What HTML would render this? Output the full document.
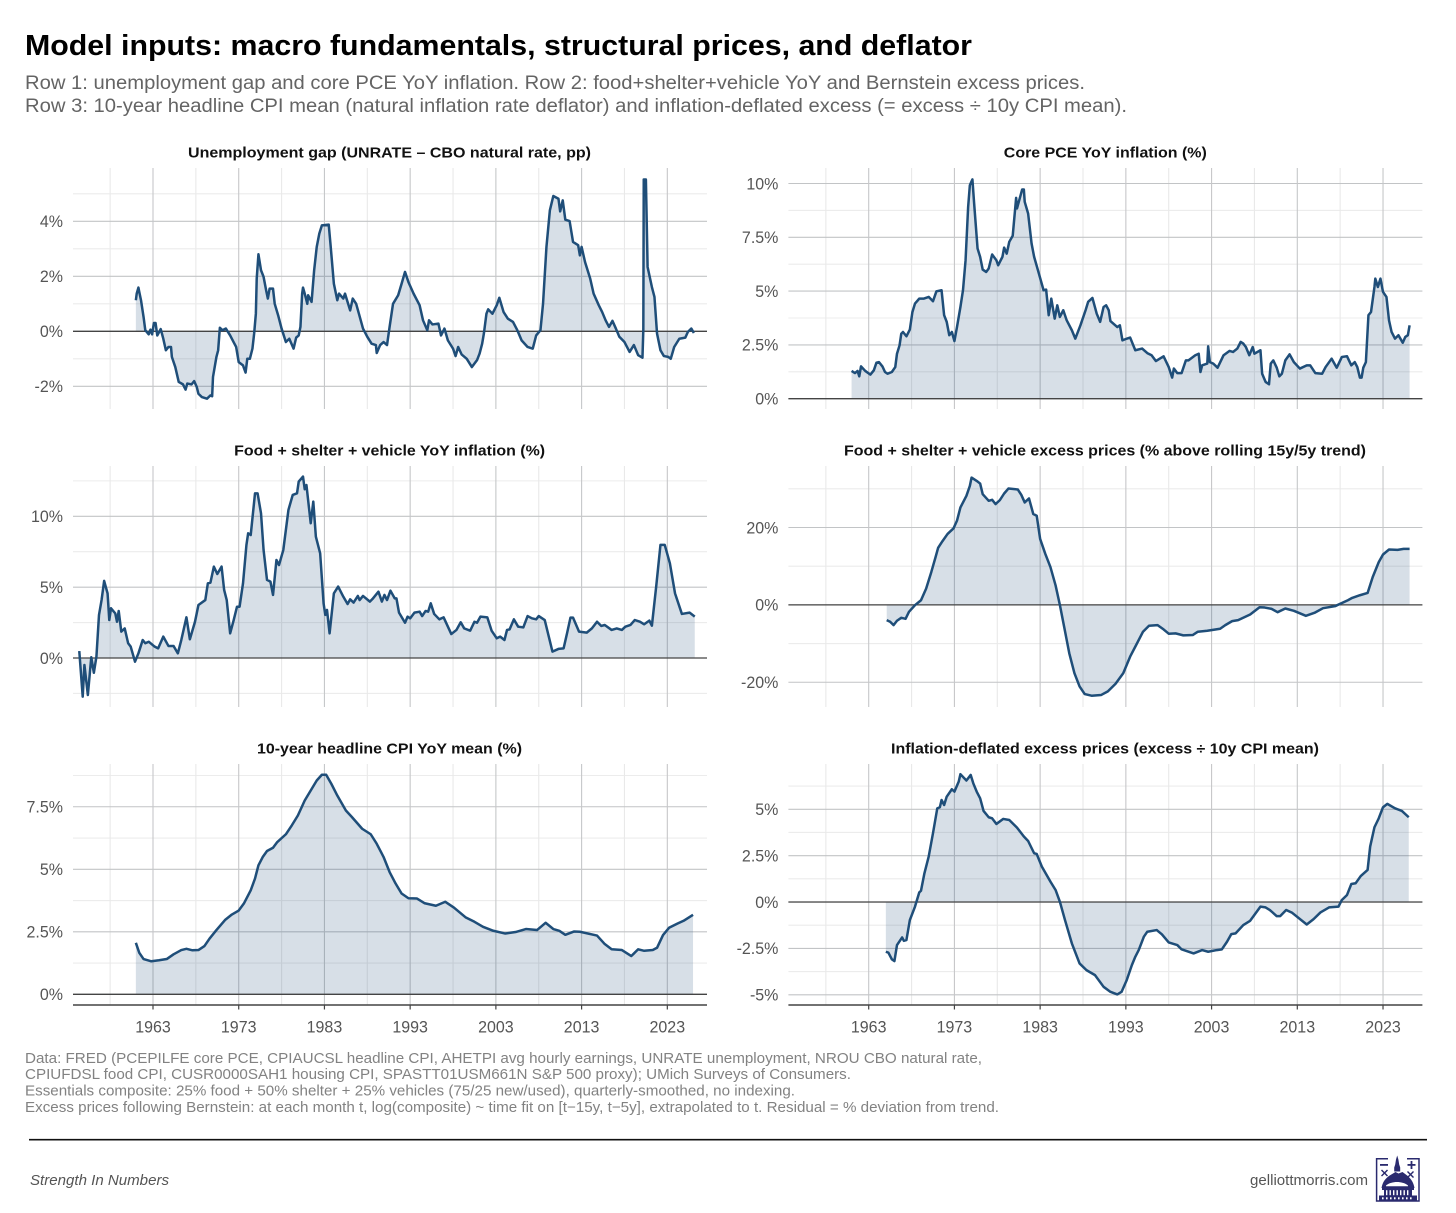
<!DOCTYPE html>
<html lang="en">
<head>
<meta charset="utf-8">
<title>Model inputs: macro fundamentals, structural prices, and deflator</title>
<style>
  html, body { margin: 0; padding: 0; background: #fff; }
  svg { display: block; font-family: "Liberation Sans", Arial, sans-serif; }
  .sub { font-size: 19px; fill: #646464; }
  .ptitle { font-size: 15px; font-weight: bold; fill: #111; text-anchor: middle; }
  .foot { font-size: 14.6px; fill: #828282; }
  .tick { font-size: 17px; fill: #555; }
</style>
</head>
<body>
<svg id="figure" width="1456" height="1213" viewBox="0 0 1456 1213" xmlns="http://www.w3.org/2000/svg">
  <rect width="1456" height="1213" fill="#fff"/>
  <text x="25" y="55" font-size="29" font-weight="bold" fill="#000" textLength="947" lengthAdjust="spacingAndGlyphs">Model inputs: macro fundamentals, structural prices, and deflator</text>
  <text class="sub" x="25" y="89" textLength="1060" lengthAdjust="spacingAndGlyphs">Row 1: unemployment gap and core PCE YoY inflation. Row 2: food+shelter+vehicle YoY and Bernstein excess prices.</text>
  <text class="sub" x="25" y="112" textLength="1102" lengthAdjust="spacingAndGlyphs">Row 3: 10-year headline CPI mean (natural inflation rate deflator) and inflation-deflated excess (= excess ÷ 10y CPI mean).</text>

  <g id="panels"></g>

  <text class="foot" x="25" y="1063" textLength="957" lengthAdjust="spacingAndGlyphs">Data: FRED (PCEPILFE core PCE, CPIAUCSL headline CPI, AHETPI avg hourly earnings, UNRATE unemployment, NROU CBO natural rate,</text>
  <text class="foot" x="25" y="1079" textLength="826" lengthAdjust="spacingAndGlyphs">CPIUFDSL food CPI, CUSR0000SAH1 housing CPI, SPASTT01USM661N S&amp;P 500 proxy); UMich Surveys of Consumers.</text>
  <text class="foot" x="25" y="1095.5" textLength="770" lengthAdjust="spacingAndGlyphs">Essentials composite: 25% food + 50% shelter + 25% vehicles (75/25 new/used), quarterly-smoothed, no indexing.</text>
  <text class="foot" x="25" y="1112" textLength="974" lengthAdjust="spacingAndGlyphs">Excess prices following Bernstein: at each month t, log(composite) ~ time fit on [t−15y, t−5y], extrapolated to t. Residual = % deviation from trend.</text>

  <line x1="29" y1="1139.7" x2="1427" y2="1139.7" stroke="#111" stroke-width="1.6"/>
  <text x="30" y="1185" font-size="15" font-style="italic" fill="#555" textLength="139" lengthAdjust="spacingAndGlyphs">Strength In Numbers</text>
  <text x="1250" y="1185" font-size="15" fill="#555" textLength="118" lengthAdjust="spacingAndGlyphs">gelliottmorris.com</text>

  <g fill="#2a2a6e" stroke="none">
    <path d="M1388 1158.7H1376.6V1201H1419V1158.7H1407" fill="none" stroke="#2a2a6e" stroke-width="1.5"/>
    <rect x="1380" y="1164" width="8" height="1.8"/>
    <rect x="1407.5" y="1164" width="8" height="1.8"/>
    <rect x="1410.6" y="1161" width="1.8" height="8"/>
    <path d="M1381 1170.5l1-1 2.5 2.5 2.5-2.5 1 1-2.5 2.5 2.5 2.5-1 1-2.5-2.5-2.5 2.5-1-1 2.5-2.5z"/>
    <path d="M1407 1172l1-1 2.5 2.5 2.5-2.5 1 1-2.5 2.5 2.5 2.5-1 1-2.5-2.5-2.5 2.5-1-1 2.5-2.5z"/>
    <path d="M1397.2 1155.5l1.2 4 .8 5 1 3v4h-6v-4l1-3 .8-5z"/>
    <path d="M1381.5 1188c1-6 4-10 9-13l5-3 3 1.5 4-1.5 4 3c4 3 7 7 8 13z"/>
    <rect x="1382" y="1188" width="32" height="2"/>
    <rect x="1384" y="1190" width="28" height="5.5"/>
    <rect x="1379" y="1195.5" width="38" height="5.5"/>
    <g fill="#fff">
      <rect x="1386" y="1190.2" width="1.4" height="5"/><rect x="1389.5" y="1190.2" width="1.4" height="5"/><rect x="1393" y="1190.2" width="1.4" height="5"/><rect x="1396.5" y="1190.2" width="1.4" height="5"/><rect x="1400" y="1190.2" width="1.4" height="5"/><rect x="1403.5" y="1190.2" width="1.4" height="5"/><rect x="1407" y="1190.2" width="1.4" height="5"/>
      <rect x="1382" y="1197.3" width="1.6" height="2"/><rect x="1386" y="1197.3" width="1.6" height="2"/><rect x="1390" y="1197.3" width="1.6" height="2"/><rect x="1394" y="1197.3" width="1.6" height="2"/><rect x="1398" y="1197.3" width="1.6" height="2"/><rect x="1402" y="1197.3" width="1.6" height="2"/><rect x="1406" y="1197.3" width="1.6" height="2"/><rect x="1410" y="1197.3" width="1.6" height="2"/>
      <path d="M1386 1185.5c3-2.500 7-3.500 11-3.500s8 1 11 3.500v.8h-22z"/>
    </g>
  </g>
</svg>

<script>
// ---- Shared axis values ----
const majorYears = [1963, 1973, 1983, 1993, 2003, 2013, 2023];
const minorYears = [1958, 1968, 1978, 1988, 1998, 2008, 2018];
const xTickLabels = ['1963', '1973', '1983', '1993', '2003', '2013', '2023'];

// ---- Unemployment gap ----
const gapYears = [1961.0,1961.1,1961.3,1961.4,1961.6,1961.9,1962.1,1962.5,1962.7,1962.9,1963.1,1963.3,1963.5,1963.9,1964.2,1964.5,1964.8,1965.1,1965.2,1965.6,1966.0,1966.5,1966.8,1967.0,1967.5,1967.8,1968.1,1968.3,1968.7,1969.3,1969.7,1969.9,1970.0,1970.4,1970.6,1970.8,1971.1,1971.5,1972.0,1972.4,1972.7,1973.0,1973.5,1973.8,1974.0,1974.3,1974.6,1974.8,1975.0,1975.1,1975.3,1975.6,1975.9,1976.2,1976.4,1976.6,1977.0,1977.2,1977.6,1978.0,1978.5,1978.9,1979.4,1979.7,1980.0,1980.2,1980.4,1980.5,1980.7,1981.0,1981.1,1981.5,1981.8,1982.1,1982.4,1982.7,1983.5,1983.7,1984.1,1984.5,1984.7,1985.2,1985.4,1986.0,1986.3,1986.7,1987.1,1987.5,1988.0,1988.5,1989.0,1989.1,1989.5,1989.9,1990.3,1990.6,1991.0,1991.6,1992.0,1992.4,1992.8,1993.4,1994.1,1994.5,1995.0,1995.2,1995.6,1996.3,1996.6,1997.0,1997.4,1998.0,1998.3,1998.6,1999.0,1999.6,2000.2,2000.8,2001.1,2001.4,2001.6,2001.9,2002.1,2002.6,2003.1,2003.4,2003.9,2004.4,2005.0,2005.5,2006.0,2006.7,2007.3,2007.7,2008.2,2008.5,2008.9,2009.3,2009.7,2010.3,2010.5,2010.8,2011.1,2011.6,2012.0,2012.6,2012.8,2013.0,2013.4,2014.0,2014.4,2015.0,2015.4,2015.8,2016.2,2016.6,2017.0,2017.4,2018.0,2018.6,2019.1,2019.6,2020.1,2020.2,2020.25,2020.5,2020.7,2021.2,2021.5,2021.8,2022.2,2022.6,2023.1,2023.4,2023.8,2024.4,2025.1,2025.4,2025.8,2026.1];
const gapValues = [1.13,1.37,1.59,1.43,1.13,0.52,0.04,-0.11,0.06,-0.11,0.3,0.3,-0.15,0.08,-0.27,-0.69,-0.57,-0.57,-0.93,-1.3,-1.84,-1.93,-2.12,-1.9,-1.93,-1.81,-2.02,-2.27,-2.39,-2.45,-2.33,-2.36,-1.66,-0.93,-0.69,0.13,0.04,0.1,-0.15,-0.39,-0.57,-1.12,-1.24,-1.5,-1.0,-1.0,-0.63,-0.08,0.64,1.92,2.8,2.22,1.98,1.49,1.19,1.55,1.55,1.0,0.58,0.1,-0.39,-0.27,-0.63,-0.23,-0.15,0.16,1.37,1.59,1.37,1.0,1.31,1.07,2.22,3.07,3.55,3.85,3.88,3.19,1.73,1.13,1.37,1.19,1.37,0.76,1.19,1.0,0.55,0.1,-0.2,-0.45,-0.5,-0.79,-0.5,-0.39,-0.5,0.16,1.0,1.31,1.73,2.16,1.79,1.37,0.95,0.4,0.04,0.4,0.25,0.28,-0.15,0.1,-0.33,-0.63,-0.9,-0.57,-0.84,-1.0,-1.3,-1.05,-0.81,-0.45,-0.08,0.64,0.8,0.64,0.95,1.22,0.7,0.46,0.34,0.04,-0.33,-0.57,-0.63,-0.15,0.04,1.0,3.07,4.4,4.92,4.82,4.36,4.76,4.06,4.01,3.25,3.13,2.76,3.07,2.52,1.92,1.37,0.95,0.7,0.4,0.16,0.38,0.1,-0.2,-0.39,-0.75,-0.5,-0.87,-0.96,0.04,5.52,5.52,2.34,1.61,1.25,-0.08,-0.69,-0.9,-0.93,-1.0,-0.57,-0.27,-0.23,-0.02,0.1,-0.06];
const gapTicks = [4, 2, 0, -2];
const gapTickLabels = ['4%', '2%', '0%', '-2%'];
const gapMinorTicks = [5, 3, 1, -1];

// ---- Core PCE YoY ----
const pceYears = [1961.0,1961.4,1961.7,1961.9,1962.1,1962.6,1963.2,1963.6,1963.9,1964.2,1964.6,1964.9,1965.2,1965.7,1966.1,1966.3,1966.6,1966.8,1967.0,1967.4,1967.8,1968.1,1968.4,1968.9,1969.4,1970.0,1970.5,1970.9,1971.5,1971.8,1972.1,1972.4,1972.7,1973.0,1973.3,1973.7,1974.0,1974.3,1974.6,1974.8,1975.1,1975.3,1975.7,1976.0,1976.3,1976.7,1977.0,1977.4,1977.9,1978.1,1978.6,1978.8,1979.1,1979.4,1979.8,1980.2,1980.3,1980.9,1981.1,1981.2,1981.6,1982.0,1982.3,1982.8,1983.4,1983.7,1984.0,1984.3,1984.7,1985.0,1985.3,1985.7,1986.1,1986.7,1987.1,1987.7,1988.3,1988.6,1989.1,1989.6,1990.0,1990.4,1990.7,1991.0,1991.2,1992.0,1992.3,1992.6,1993.1,1993.5,1994.1,1994.9,1995.5,1996.0,1996.5,1997.4,1998.0,1998.4,1998.6,1999.0,1999.5,2000.0,2000.3,2001.1,2001.5,2001.7,2001.9,2002.5,2002.6,2002.8,2003.2,2003.7,2004.4,2005.1,2005.5,2006.0,2006.4,2006.7,2007.0,2007.4,2007.8,2008.0,2008.7,2008.9,2009.3,2009.7,2009.9,2010.2,2010.6,2010.9,2011.2,2011.6,2012.1,2012.6,2013.3,2014.1,2014.5,2015.1,2015.9,2016.3,2017.0,2017.6,2018.2,2018.8,2019.3,2019.7,2020.0,2020.3,2020.5,2020.7,2021.0,2021.3,2021.6,2022.0,2022.1,2022.4,2022.7,2023.0,2023.4,2023.7,2024.0,2024.4,2024.8,2025.3,2025.6,2025.9,2026.1];
const pceValues = [1.29,1.19,1.29,1.04,1.5,1.29,1.12,1.32,1.67,1.7,1.5,1.24,1.16,1.24,1.47,2.09,2.48,3.02,3.1,2.9,3.21,4.03,4.42,4.65,4.65,4.73,4.53,4.99,5.04,3.88,3.57,2.95,3.1,2.68,3.33,4.26,5.04,6.43,8.91,9.92,10.19,9.07,6.98,6.59,6.0,5.89,6.05,6.7,6.43,6.2,6.59,7.02,6.74,7.29,7.57,9.33,8.84,9.72,9.72,9.15,8.6,7.21,6.59,5.89,5.04,5.07,3.88,4.65,3.72,4.34,3.8,4.11,3.64,3.18,2.79,3.41,4.11,4.5,4.68,3.95,3.57,4.26,4.34,4.11,3.61,3.33,3.41,2.71,2.79,2.84,2.25,2.33,2.12,2.02,1.75,1.97,1.47,0.98,1.4,1.19,1.19,1.78,1.78,2.02,2.09,1.24,1.55,1.63,2.43,1.7,1.63,1.44,2.02,2.22,2.17,2.33,2.64,2.56,2.4,2.02,2.4,2.09,2.25,1.16,0.78,0.67,1.63,1.78,1.44,1.04,1.16,1.78,2.06,1.7,1.4,1.55,1.55,1.19,1.16,1.47,1.86,1.44,1.94,1.97,1.55,1.7,1.47,0.98,0.98,1.44,1.7,3.88,4.03,5.19,5.58,5.19,5.58,4.96,4.73,3.64,3.1,2.79,2.95,2.6,2.87,2.95,3.41];
const pceTicks = [10, 7.5, 5, 2.5, 0];
const pceTickLabels = ['10%', '7.5%', '5%', '2.5%', '0%'];
const pceMinorTicks = [8.75, 6.25, 3.75, 1.25];

// ---- Food + shelter + vehicle YoY ----
const fsvYears = [1954.4,1954.8,1955.0,1955.4,1955.8,1956.1,1956.4,1956.7,1957.0,1957.3,1957.7,1957.9,1958.1,1958.6,1958.8,1959.0,1959.3,1959.7,1960.1,1960.4,1960.9,1961.3,1961.8,1962.1,1962.5,1963.2,1963.6,1964.2,1964.8,1965.4,1965.9,1966.3,1966.9,1967.3,1967.9,1968.3,1969.1,1969.4,1969.7,1970.1,1970.5,1971.0,1971.3,1971.6,1972.0,1972.4,1972.8,1973.1,1973.5,1973.9,1974.1,1974.4,1974.9,1975.2,1975.6,1975.9,1976.3,1976.7,1977.0,1977.4,1977.7,1978.2,1978.8,1979.3,1979.8,1980.0,1980.5,1980.7,1980.9,1981.4,1981.7,1982.0,1982.5,1982.9,1983.1,1983.3,1983.6,1984.1,1984.6,1985.2,1985.7,1986.0,1986.4,1986.9,1987.1,1987.5,1988.3,1988.6,1989.3,1989.7,1990.0,1990.3,1990.7,1991.2,1991.4,1991.7,1992.4,1992.7,1993.0,1993.5,1994.1,1994.4,1994.8,1995.1,1995.4,1995.8,1996.4,1996.9,1997.8,1998.4,1998.9,1999.3,2000.0,2000.5,2000.8,2001.2,2002.0,2002.5,2003.1,2003.5,2004.0,2004.3,2004.6,2005.1,2005.6,2006.2,2006.7,2007.2,2007.7,2008.0,2008.7,2009.6,2010.3,2010.9,2011.3,2011.7,2012.0,2012.7,2013.6,2014.2,2014.8,2015.3,2015.7,2016.5,2017.1,2017.7,2018.1,2018.7,2019.2,2019.8,2020.3,2020.9,2021.2,2021.7,2022.2,2022.7,2023.3,2023.9,2024.7,2025.6,2026.2];
const fsvValues = [0.49,-2.73,-0.49,-2.61,0.05,-1.04,0.09,3.04,4.09,5.44,4.56,2.68,3.51,3.15,2.56,3.32,1.86,2.09,1.04,0.8,-0.26,0.33,1.27,1.04,1.15,0.8,0.68,1.51,0.85,0.85,0.33,1.27,2.87,1.32,2.56,3.74,4.09,5.27,5.32,6.45,5.93,6.45,4.8,4.09,1.74,2.64,3.62,3.62,5.27,7.98,8.8,8.68,11.62,11.62,10.21,7.62,5.51,5.39,4.45,6.92,6.56,7.62,10.45,11.51,11.62,12.45,12.8,11.91,12.21,9.51,11.04,8.56,7.39,3.86,3.04,3.39,1.74,4.56,5.04,4.33,3.81,4.14,3.91,4.38,4.09,4.38,3.98,4.16,4.68,3.98,4.45,4.09,4.75,4.21,4.21,3.2,2.49,2.92,2.8,3.2,3.27,2.96,3.32,3.27,3.86,3.11,2.73,2.87,1.69,1.98,2.52,2.09,1.93,2.56,2.49,2.92,2.87,1.93,1.39,1.51,1.27,1.98,2.02,2.73,2.21,2.16,2.96,2.8,2.73,2.96,2.68,0.45,0.64,0.68,1.74,2.85,2.85,1.86,1.79,2.09,2.56,2.26,2.33,1.98,2.09,1.98,2.21,2.33,2.68,2.56,2.38,2.64,2.28,5.04,7.98,7.98,6.68,4.56,3.11,3.2,2.92];
const fsvTicks = [10, 5, 0];
const fsvTickLabels = ['10%', '5%', '0%'];
const fsvMinorTicks = [12.5, 7.5, 2.5, -2.5];

// ---- Excess prices ----
const excessYears = [1965.1,1965.5,1965.9,1966.3,1966.8,1967.3,1967.7,1968.4,1969.1,1969.7,1970.3,1970.8,1971.1,1971.6,1972.2,1972.9,1973.3,1973.7,1974.4,1974.8,1975.0,1975.6,1976.0,1976.3,1977.0,1977.4,1977.8,1978.3,1978.8,1979.3,1980.4,1980.8,1981.2,1981.7,1982.2,1982.6,1983.0,1983.6,1984.2,1984.8,1985.3,1985.8,1986.4,1987.0,1987.6,1988.2,1989.0,1990.1,1990.9,1991.8,1992.7,1993.5,1994.2,1995.0,1995.7,1996.7,1997.4,1998.0,1998.8,1999.7,2000.8,2001.4,2002.5,2004.0,2004.6,2005.4,2006.1,2007.5,2008.6,2009.2,2010.0,2010.7,2011.6,2012.6,2014.0,2015.0,2016.0,2017.4,2018.9,2019.4,2020.3,2021.2,2021.8,2022.5,2023.0,2023.7,2024.7,2025.4,2026.1];
const excessValues = [-3.94,-4.37,-5.23,-4.11,-3.34,-3.6,-1.8,-0.09,1.2,4.2,8.48,12.34,14.74,16.45,18.34,19.8,21.77,25.19,28.19,30.76,32.9,32.05,31.36,28.62,26.91,27.16,26.05,27.08,28.79,30.08,29.82,28.45,26.48,27.51,23.48,23.05,17.05,13.2,9.77,5.06,0,-5.66,-12.51,-17.65,-21.08,-23.05,-23.48,-23.31,-22.37,-20.39,-17.65,-13.37,-10.37,-6.94,-5.4,-5.23,-6.34,-7.46,-7.37,-7.88,-7.8,-6.94,-6.68,-6.17,-5.23,-4.2,-3.94,-2.49,-0.6,-0.69,-1.03,-1.89,-0.94,-1.54,-2.83,-2.06,-0.86,-0.34,1.2,1.8,2.49,3.08,7.2,11.05,13.02,14.31,14.22,14.48,14.48];
const excessTicks = [20, 0, -20];
const excessTickLabels = ['20%', '0%', '-20%'];
const excessMinorTicks = [30, 10, -10];

// ---- 10-year CPI mean ----
const cpiYears = [1961.0,1961.4,1961.9,1962.8,1963.7,1964.6,1965.4,1966.3,1966.9,1967.6,1968.3,1969.0,1969.6,1970.4,1971.4,1972.2,1973.0,1973.6,1974.4,1974.9,1975.3,1975.8,1976.3,1977.0,1977.5,1978.5,1979.2,1979.9,1980.7,1981.4,1982.1,1982.7,1983.2,1983.8,1984.5,1985.5,1986.2,1987.4,1988.4,1989.1,1989.9,1990.6,1991.3,1992.0,1992.8,1993.8,1994.7,1996.0,1997.1,1998.1,1999.5,2000.5,2001.5,2002.7,2004.1,2005.3,2006.5,2007.8,2008.8,2009.7,2010.4,2011.1,2012.1,2012.8,2014.8,2015.7,2016.5,2017.7,2018.8,2019.6,2020.3,2021.3,2021.8,2022.5,2023.2,2024.2,2024.9,2026.0];
const cpiValues = [2.06,1.66,1.41,1.32,1.36,1.41,1.6,1.77,1.82,1.76,1.77,1.93,2.23,2.57,2.97,3.19,3.35,3.63,4.16,4.63,5.16,5.49,5.73,5.86,6.09,6.4,6.76,7.15,7.75,8.15,8.55,8.78,8.78,8.42,7.95,7.35,7.09,6.62,6.4,6.02,5.49,4.89,4.43,4.03,3.84,3.83,3.64,3.54,3.7,3.47,3.07,2.9,2.7,2.54,2.43,2.49,2.61,2.57,2.86,2.61,2.54,2.38,2.51,2.5,2.35,2.01,1.8,1.77,1.53,1.8,1.74,1.77,1.86,2.37,2.66,2.83,2.94,3.18];
const cpiTicks = [7.5, 5, 2.5, 0];
const cpiTickLabels = ['7.5%', '5%', '2.5%', '0%'];
const cpiMinorTicks = [8.75, 6.25, 3.75, 1.25];

// ---- Inflation-deflated excess ----
const deflYears = [1965.0,1965.3,1965.7,1966.0,1966.3,1966.9,1967.1,1967.4,1967.8,1968.4,1968.9,1969.1,1969.5,1970.0,1970.5,1971.0,1971.3,1971.5,1971.8,1972.1,1972.7,1973.0,1973.5,1973.7,1974.4,1974.9,1975.2,1975.6,1976.0,1976.4,1977.0,1977.4,1977.9,1978.7,1979.4,1980.3,1981.1,1981.6,1982.3,1982.6,1983.2,1984.2,1984.8,1985.3,1985.9,1986.7,1987.6,1988.4,1989.4,1990.4,1991.2,1992.0,1992.5,1993.1,1993.7,1994.1,1994.5,1995.1,1995.5,1996.6,1997.2,1998.0,1999.0,1999.5,2000.9,2001.9,2002.6,2003.6,2004.2,2004.8,2005.3,2005.8,2006.7,2007.5,2008.7,2009.3,2009.8,2010.6,2011.0,2011.7,2012.4,2014.1,2014.9,2015.7,2016.7,2017.8,2018.2,2018.8,2019.3,2019.8,2020.4,2021.2,2021.5,2022.0,2022.5,2023.0,2023.5,2024.4,2025.2,2026.0];
const deflValues = [-2.68,-2.73,-3.09,-3.18,-2.32,-1.91,-2.09,-2.05,-0.97,-0.25,0.52,0.61,1.55,2.45,3.71,5.05,5.11,5.5,5.23,5.68,6.08,5.95,6.49,6.89,6.55,6.85,6.4,5.95,5.59,4.91,4.57,4.51,4.21,4.48,4.42,4.01,3.53,3.29,2.63,2.59,1.91,1.1,0.65,0.02,-0.97,-2.23,-3.31,-3.67,-3.94,-4.57,-4.84,-4.98,-4.84,-4.21,-3.4,-2.95,-2.59,-1.87,-1.6,-1.51,-1.74,-2.18,-2.32,-2.55,-2.77,-2.59,-2.68,-2.59,-2.55,-2.14,-1.73,-1.69,-1.24,-1.01,-0.25,-0.29,-0.43,-0.76,-0.76,-0.43,-0.58,-1.21,-0.92,-0.56,-0.29,-0.25,0.11,0.38,0.97,1.01,1.4,1.73,2.99,4.03,4.51,5.11,5.29,5.05,4.91,4.57];
const deflTicks = [5, 2.5, 0, -2.5, -5];
const deflTickLabels = ['5%', '2.5%', '0%', '-2.5%', '-5%'];
const deflMinorTicks = [6.25, 3.75, 1.25, -1.25, -3.75];

const SVGNS = 'http://www.w3.org/2000/svg';
const root = document.getElementById('panels');

function mk(tag, attrs, parent) {
  const el = document.createElementNS(SVGNS, tag);
  for (const k in attrs) el.setAttribute(k, attrs[k]);
  parent.appendChild(el);
  return el;
}

// Tick labels are slightly tall and narrow in the reference: keep the 16px advance width at 17px height.
function narrowTick(t) {
  t.setAttribute('textLength', (t.getComputedTextLength() * 16 / 17).toFixed(2));
  t.setAttribute('lengthAdjust', 'spacingAndGlyphs');
}

function drawPanel(cfg) {
  const g = mk('g', {}, root);
  
  

  const xLeft = cfg.left, xRight = cfg.left + 634;
  const top = cfg.top, bottom = cfg.top + 241;

  // Axis scale functions
  const xScale = yr => cfg.x1963 + (yr - 1963) * 8.572;
  const yScale = v => top + (cfg.dmax - v) / (cfg.dmax - cfg.dmin) * (bottom - top);

  const title = mk('text', { class: 'ptitle', x: cfg.titleX, y: top - 10.7, textLength: cfg.titleW, lengthAdjust: 'spacingAndGlyphs' }, g);
  
  
  title.textContent = cfg.title;

  // Grid: minor
  cfg.minor.forEach(v => {
    const l = mk('line', { x1: xLeft, x2: xRight, y1: yScale(v), y2: yScale(v), stroke: '#ececec', 'stroke-width': 1.1 }, g);
    
    
  });
  minorYears.forEach(yr => {
    const l = mk('line', { x1: xScale(yr), x2: xScale(yr), y1: top, y2: bottom, stroke: '#e9e9e9', 'stroke-width': 1.1 }, g);
    
    
  });
  // Grid: major
  cfg.ticks.forEach(v => {
    const l = mk('line', { x1: xLeft, x2: xRight, y1: yScale(v), y2: yScale(v), stroke: '#c2c4c6', 'stroke-width': 1.1 }, g);
    
    
  });
  majorYears.forEach(yr => {
    const l = mk('line', { x1: xScale(yr), x2: xScale(yr), y1: top, y2: bottom, stroke: '#c6c7c9', 'stroke-width': 1.1 }, g);
    
    
  });

  // Area ribbon between series and zero
  const linePts = cfg.years.map((yr, i) => xScale(yr).toFixed(2) + ',' + yScale(cfg.values[i]).toFixed(2));
  const n = cfg.years.length;
  const areaPts = [xScale(cfg.years[0]).toFixed(2) + ',' + yScale(0).toFixed(2)]
    .concat(linePts)
    .concat([xScale(cfg.years[n - 1]).toFixed(2) + ',' + yScale(0).toFixed(2)]);
  const area = mk('polygon', { points: areaPts.join(' '), fill: '#1f4e79', 'fill-opacity': 0.18 }, g);
  
  

  // Zero line
  const zero = mk('line', { x1: xLeft, x2: xRight, y1: yScale(0), y2: yScale(0), stroke: '#444', 'stroke-width': 1.3 }, g);
  
  

  // Series line
  const line = mk('polyline', { points: linePts.join(' '), fill: 'none', stroke: '#1f4e79', 'stroke-width': 2.5, 'stroke-linejoin': 'round', 'stroke-linecap': 'butt' }, g);
  
  

  // Y tick labels
  cfg.ticks.forEach((v, i) => {
    const t = mk('text', { class: 'tick', x: xLeft - 10, y: yScale(v) + 5.8, 'text-anchor': 'end' }, g);
    
    
    t.textContent = cfg.labels[i];
    narrowTick(t);
  });

  // Bottom axis on the last row
  if (cfg.showX) {
    const axis = mk('line', { x1: xLeft, x2: xRight, y1: bottom, y2: bottom, stroke: '#444', 'stroke-width': 1.5 }, g);
    
    
    majorYears.forEach((yr, i) => {
      const tk = mk('line', { x1: xScale(yr), x2: xScale(yr), y1: bottom, y2: bottom + 4.5, stroke: '#444', 'stroke-width': 1.2 }, g);
      
      
      const t = mk('text', { class: 'tick', x: xScale(yr), y: bottom + 27.3, 'text-anchor': 'middle' }, g);
      
      
      t.textContent = xTickLabels[i];
      narrowTick(t);
    });
  }
}

drawPanel({ name: 'unemployment-gap', title: 'Unemployment gap (UNRATE – CBO natural rate, pp)', titleX: 389.5, titleW: 403, left: 73, x1963: 153, top: 168, dmax: 5.938, dmin: -2.825, years: gapYears, values: gapValues, ticks: gapTicks, labels: gapTickLabels, minor: gapMinorTicks, showX: false });
drawPanel({ name: 'core-pce', title: 'Core PCE YoY inflation (%)', titleX: 1105.3, titleW: 203, left: 788.4, x1963: 868.7, top: 168, dmax: 10.72, dmin: -0.479, years: pceYears, values: pceValues, ticks: pceTicks, labels: pceTickLabels, minor: pceMinorTicks, showX: false });
drawPanel({ name: 'food-shelter-vehicle-yoy', title: 'Food + shelter + vehicle YoY inflation (%)', titleX: 389.6, titleW: 311, left: 73, x1963: 153, top: 466, dmax: 13.55, dmin: -3.458, years: fsvYears, values: fsvValues, ticks: fsvTicks, labels: fsvTickLabels, minor: fsvMinorTicks, showX: false });
drawPanel({ name: 'excess-prices', title: 'Food + shelter + vehicle excess prices (% above rolling 15y/5y trend)', titleX: 1105, titleW: 522, left: 788.4, x1963: 868.7, top: 466, dmax: 35.9, dmin: -26.4, years: excessYears, values: excessValues, ticks: excessTicks, labels: excessTickLabels, minor: excessMinorTicks, showX: false });
drawPanel({ name: 'ten-year-cpi-mean', title: '10-year headline CPI YoY mean (%)', titleX: 389.5, titleW: 265, left: 73, x1963: 153, top: 764, dmax: 9.21, dmin: -0.428, years: cpiYears, values: cpiValues, ticks: cpiTicks, labels: cpiTickLabels, minor: cpiMinorTicks, showX: true });
drawPanel({ name: 'inflation-deflated-excess', title: 'Inflation-deflated excess prices (excess ÷ 10y CPI mean)', titleX: 1105, titleW: 428, left: 788.4, x1963: 868.7, top: 764, dmax: 7.44, dmin: -5.55, years: deflYears, values: deflValues, ticks: deflTicks, labels: deflTickLabels, minor: deflMinorTicks, showX: true });
</script>
</body>
</html>
